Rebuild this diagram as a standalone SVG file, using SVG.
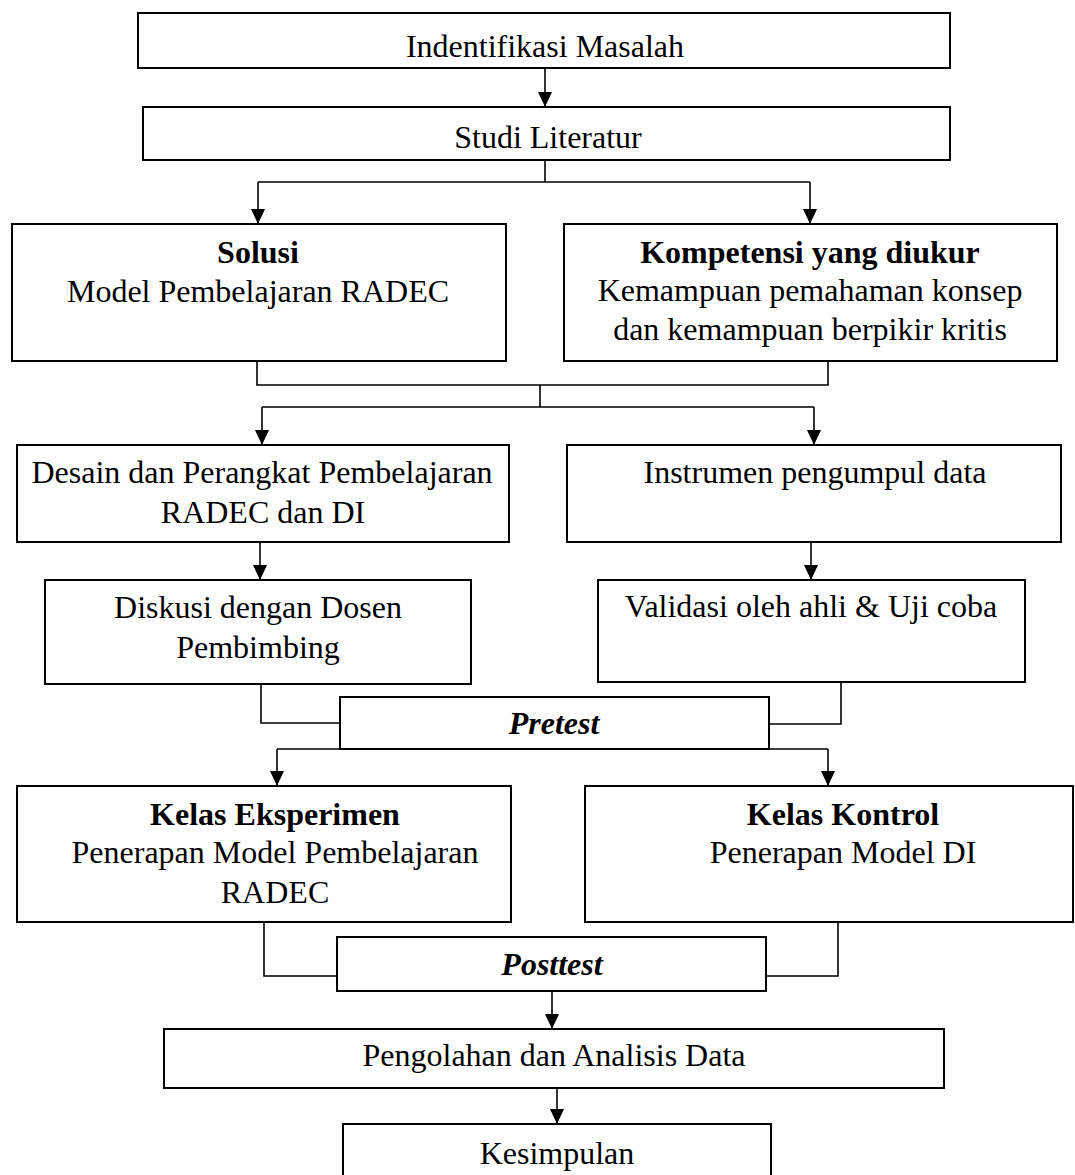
<svg xmlns="http://www.w3.org/2000/svg" width="1075" height="1175" viewBox="0 0 1075 1175">
<style>
.box{fill:#fff;stroke:#000;stroke-width:2}
.ln{fill:none;stroke:#000;stroke-width:1.6}
.ar{fill:none;stroke:#000;stroke-width:1.6;marker-end:url(#ah)}
text{font-family:"Liberation Serif","Times New Roman",serif;font-size:32px;fill:#000;text-anchor:middle}
.b{font-weight:bold}
.bi{font-weight:bold;font-style:italic}
</style>
<defs>
<marker id="ah" viewBox="0 0 15 14" refX="15" refY="7" markerWidth="15" markerHeight="14" markerUnits="userSpaceOnUse" orient="auto">
<path d="M0,0 L15,7 L0,14 z" fill="#000"/>
</marker>
</defs>
<rect width="1075" height="1175" fill="#fff"/>
<g id="connectors">
<line class="ar" x1="545" y1="68" x2="545" y2="107"/>
<path class="ln" d="M545,160 V182 M258,182 H810"/>
<line class="ar" x1="258" y1="182" x2="258" y2="224"/>
<line class="ar" x1="810" y1="182" x2="810" y2="224"/>
<path class="ln" d="M257,361 V385 H828 V361 M540,385 V407 M262,407 H814"/>
<line class="ar" x1="262" y1="407" x2="262" y2="445"/>
<line class="ar" x1="814" y1="407" x2="814" y2="445"/>
<line class="ar" x1="260" y1="542" x2="260" y2="580"/>
<line class="ar" x1="811" y1="542" x2="811" y2="580"/>
<path class="ln" d="M261,684 V723 H340 M841,682 V724 H769 M277,749 H828"/>
<line class="ar" x1="277" y1="749" x2="277" y2="786"/>
<line class="ar" x1="828" y1="749" x2="828" y2="786"/>
<path class="ln" d="M264,922 V976 H337 M838,922 V976 H766"/>
<line class="ar" x1="552" y1="991" x2="552" y2="1029"/>
<line class="ar" x1="557" y1="1088" x2="557" y2="1124"/>
</g>
<g id="n1"><rect class="box" x="138" y="13" width="812" height="55"/><text x="545" y="57">Indentifikasi Masalah</text></g>
<g id="n2"><rect class="box" x="143" y="107" width="807" height="53"/><text x="548" y="148">Studi Literatur</text></g>
<g id="n3"><rect class="box" x="12" y="224" width="494" height="137"/><text class="b" x="258" y="263">Solusi</text><text x="258" y="302">Model Pembelajaran RADEC</text></g>
<g id="n4"><rect class="box" x="564" y="224" width="493" height="137"/><text class="b" x="810" y="263">Kompetensi yang diukur</text><text x="810" y="301">Kemampuan pemahaman konsep</text><text x="810" y="340">dan kemampuan berpikir kritis</text></g>
<g id="n5"><rect class="box" x="17" y="445" width="492" height="97"/><text x="262" y="483">Desain dan Perangkat Pembelajaran</text><text x="263" y="523">RADEC dan DI</text></g>
<g id="n6"><rect class="box" x="567" y="445" width="494" height="97"/><text x="815" y="483">Instrumen pengumpul data</text></g>
<g id="n7"><rect class="box" x="45" y="580" width="426" height="104"/><text x="258" y="618">Diskusi dengan Dosen</text><text x="258" y="658">Pembimbing</text></g>
<g id="n8"><rect class="box" x="598" y="580" width="427" height="102"/><text x="811" y="617">Validasi oleh ahli &amp; Uji coba</text></g>
<g id="n9"><rect class="box" x="340" y="697" width="429" height="52"/><text class="bi" x="554" y="734">Pretest</text></g>
<g id="n10"><rect class="box" x="17" y="786" width="494" height="136"/><text class="b" x="275" y="825">Kelas Eksperimen</text><text x="275" y="863">Penerapan Model Pembelajaran</text><text x="275" y="903">RADEC</text></g>
<g id="n11"><rect class="box" x="585" y="786" width="488" height="136"/><text class="b" x="843" y="825">Kelas Kontrol</text><text x="843" y="863">Penerapan Model DI</text></g>
<g id="n12"><rect class="box" x="337" y="937" width="429" height="54"/><text class="bi" x="552" y="975">Posttest</text></g>
<g id="n13"><rect class="box" x="164" y="1029" width="780" height="59"/><text x="554" y="1066">Pengolahan dan Analisis Data</text></g>
<g id="n14"><rect class="box" x="343" y="1124" width="428" height="70"/><text x="557" y="1164">Kesimpulan</text></g>
</svg>
